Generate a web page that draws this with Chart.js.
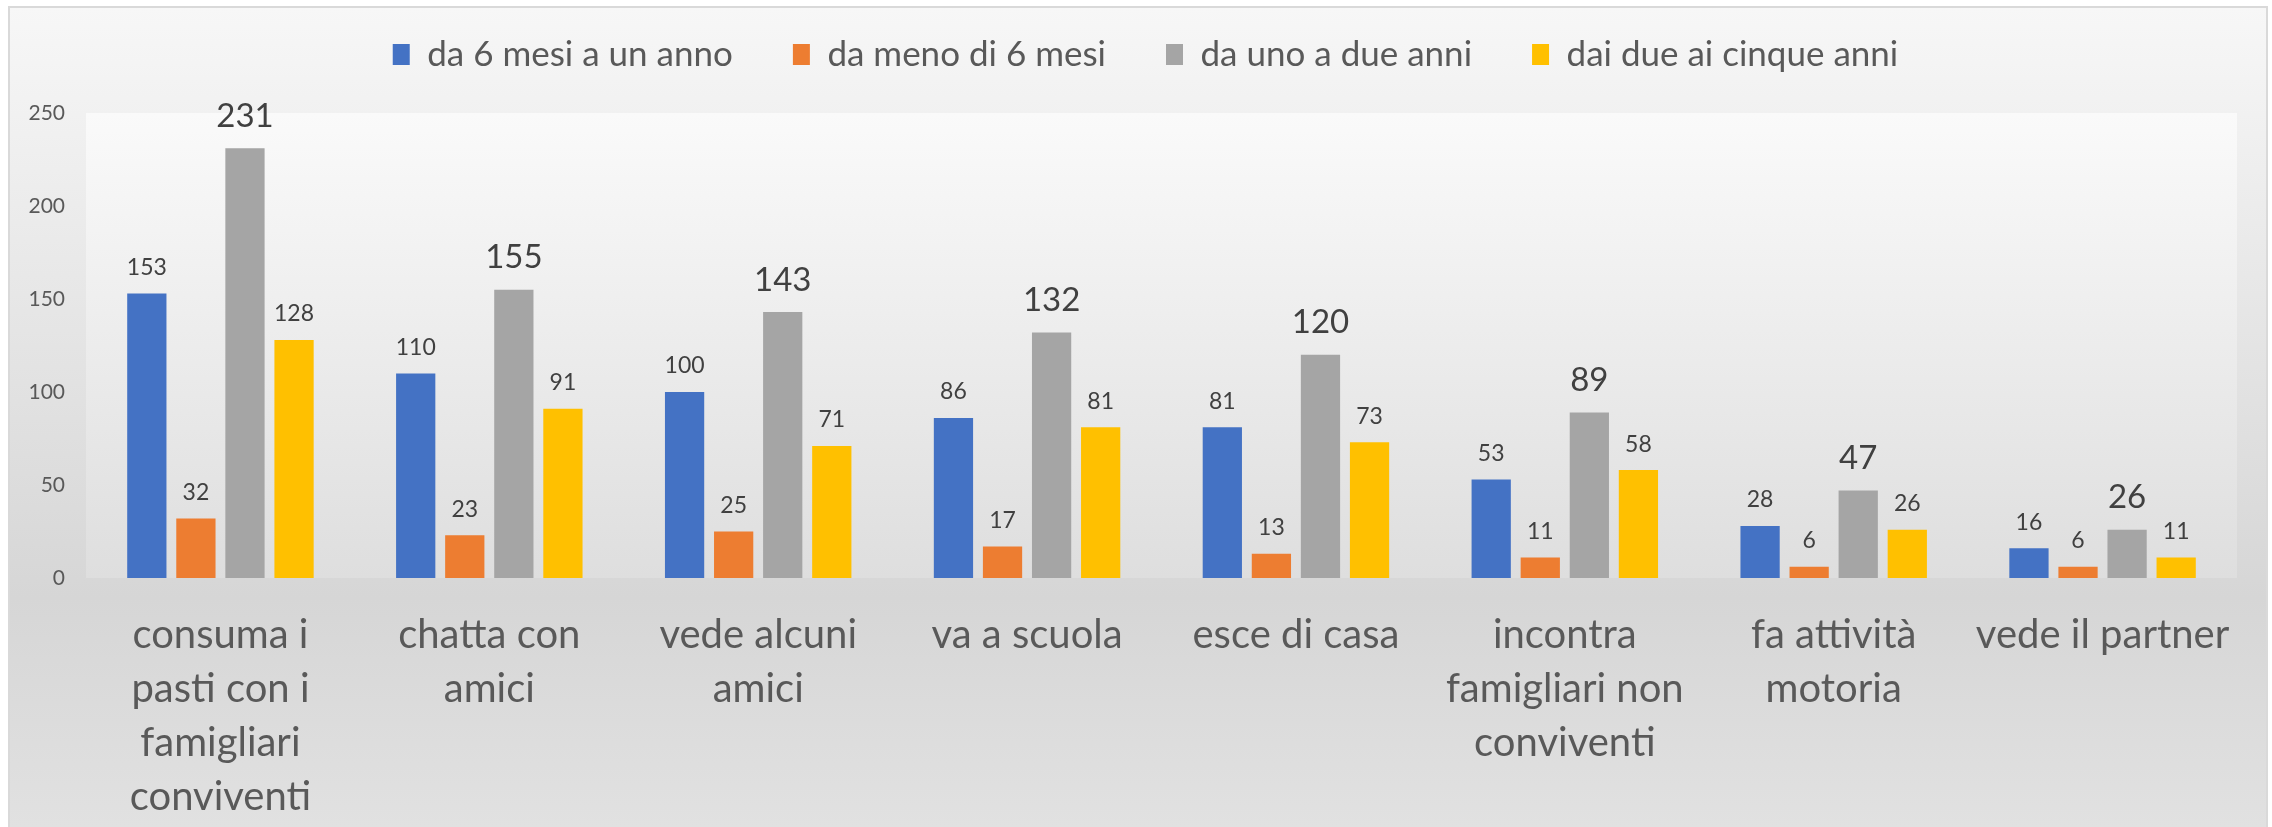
<!DOCTYPE html>
<html>
<head>
<meta charset="utf-8">
<script src="https://cdn.jsdelivr.net/npm/chart.js@4.4.0/dist/chart.umd.min.js"></script>
<style>
  html, body { margin: 0; padding: 0; background: #fff; }
  canvas { display: block; }
</style>
</head>
<body>
<canvas id="barChart" width="2272" height="827"></canvas>
<script>
    // Categories (split into the lines shown under the axis)
    const labels = [
        ['consuma i', 'pasti con i', 'famigliari', 'conviventi'],
        ['chatta con', 'amici'],
        ['vede alcuni', 'amici'],
        ['va a scuola'],
        ['esce di casa'],
        ['incontra', 'famigliari non', 'conviventi'],
        ['fa attività', 'motoria'],
        ['vede il partner']
    ];
    const seriesNames = ['da 6 mesi a un anno', 'da meno di 6 mesi', 'da uno a due anni', 'dai due ai cinque anni'];
    const seiMesiUnAnno = [153, 110, 100, 86, 81, 53, 28, 16];
    const menoDiSeiMesi = [32, 23, 25, 17, 13, 11, 6, 6];
    const unoDueAnni = [231, 155, 143, 132, 120, 89, 47, 26];
    const dueCinqueAnni = [128, 91, 71, 81, 73, 58, 26, 11];
    const yMax = 250;
    const yStep = 50;

    const colors = ['#4472C4', '#ED7D31', '#A5A5A5', '#FFC000'];
    const FONT = 'Lato';

    // Background gradients + outer frame
    const background = {
        id: 'background',
        beforeDraw(chart) {
            const { ctx, width, height, chartArea } = chart;
            ctx.save();
            ctx.fillStyle = '#ffffff';
            ctx.fillRect(0, 0, width, height);
            let g = ctx.createLinearGradient(0, 8, 0, height);
            g.addColorStop(0, '#f7f7f7');
            g.addColorStop(0.72, '#d6d6d6');
            g.addColorStop(1, '#e1e1e1');
            ctx.fillStyle = g;
            ctx.fillRect(10, 8, width - 16, height);
            ctx.strokeStyle = '#d9d9d9';
            ctx.lineWidth = 2;
            ctx.strokeRect(9, 7, width - 14, height + 10);
            // plot area
            g = ctx.createLinearGradient(0, chartArea.top, 0, chartArea.bottom);
            g.addColorStop(0, '#fafafa');
            g.addColorStop(1, '#dedede');
            ctx.fillStyle = g;
            ctx.fillRect(chartArea.left, chartArea.top, chartArea.width, chartArea.height);
            ctx.restore();
        }
    };

    // Value labels above each bar (the grey series is printed bigger)
    const dataLabels = {
        id: 'dataLabels',
        afterDatasetsDraw(chart) {
            const ctx = chart.ctx;
            ctx.save();
            chart.data.datasets.forEach((ds, i) => {
                const meta = chart.getDatasetMeta(i);
                const big = i === 2;
                ctx.font = (big ? 33 : 23) + 'px ' + FONT;
                ctx.fillStyle = '#404040';
                ctx.textAlign = 'center';
                ctx.textBaseline = 'middle';
                meta.data.forEach((bar, j) => {
                    ctx.fillText(ds.data[j], bar.x, bar.y - (big ? 32 : 26));
                });
            });
            ctx.restore();
        }
    };

    // nudge the legend up and a little to the right
    const legendShift = {
        id: 'legendShift',
        afterLayout(chart) {
            if (chart.legend) {
                chart.legend.top -= 31;
                chart.legend.bottom -= 31;
                chart.legend.left += 17;
                chart.legend.right += 17;
            }
        }
    };

    const ctxBar = document.getElementById('barChart').getContext('2d');
    const barChart = new Chart(ctxBar, {
        type: 'bar',
        data: {
            labels: labels,
            datasets: [
                { label: seriesNames[0], data: seiMesiUnAnno, backgroundColor: colors[0] },
                { label: seriesNames[1], data: menoDiSeiMesi, backgroundColor: colors[1] },
                { label: seriesNames[2], data: unoDueAnni, backgroundColor: colors[2] },
                { label: seriesNames[3], data: dueCinqueAnni, backgroundColor: colors[3] }
            ]
        },
        options: {
            responsive: false,
            animation: false,
            categoryPercentage: 0.73,
            barPercentage: 0.8,
            layout: {
                padding: { left: 20, right: 35, top: 0, bottom: 0 }
            },
            scales: {
                x: {
                    grid: { display: false, drawTicks: false },
                    border: { display: false },
                    ticks: {
                        color: '#595959',
                        padding: 30,
                        maxRotation: 0,
                        autoSkip: false,
                        font: { family: FONT, size: 40, lineHeight: 1.35 }
                    },
                    afterFit(scale) { scale.height = 249; }
                },
                y: {
                    min: 0,
                    max: yMax,
                    grid: { display: false, drawTicks: false },
                    border: { display: false },
                    ticks: {
                        stepSize: yStep,
                        color: '#595959',
                        padding: 21,
                        font: { family: FONT, size: 21 }
                    },
                    afterFit(scale) {
                        scale.width = 66;
                        scale.paddingTop = 113;
                    }
                }
            },
            plugins: {
                tooltip: { enabled: false },
                legend: {
                    position: 'top',
                    labels: {
                        color: '#595959',
                        boxWidth: 17,
                        boxHeight: 21,
                        padding: 60,
                        font: { family: FONT, size: 35 }
                    }
                }
            }
        },
        plugins: [background, dataLabels, legendShift]
    });
</script>
</body>
</html>
